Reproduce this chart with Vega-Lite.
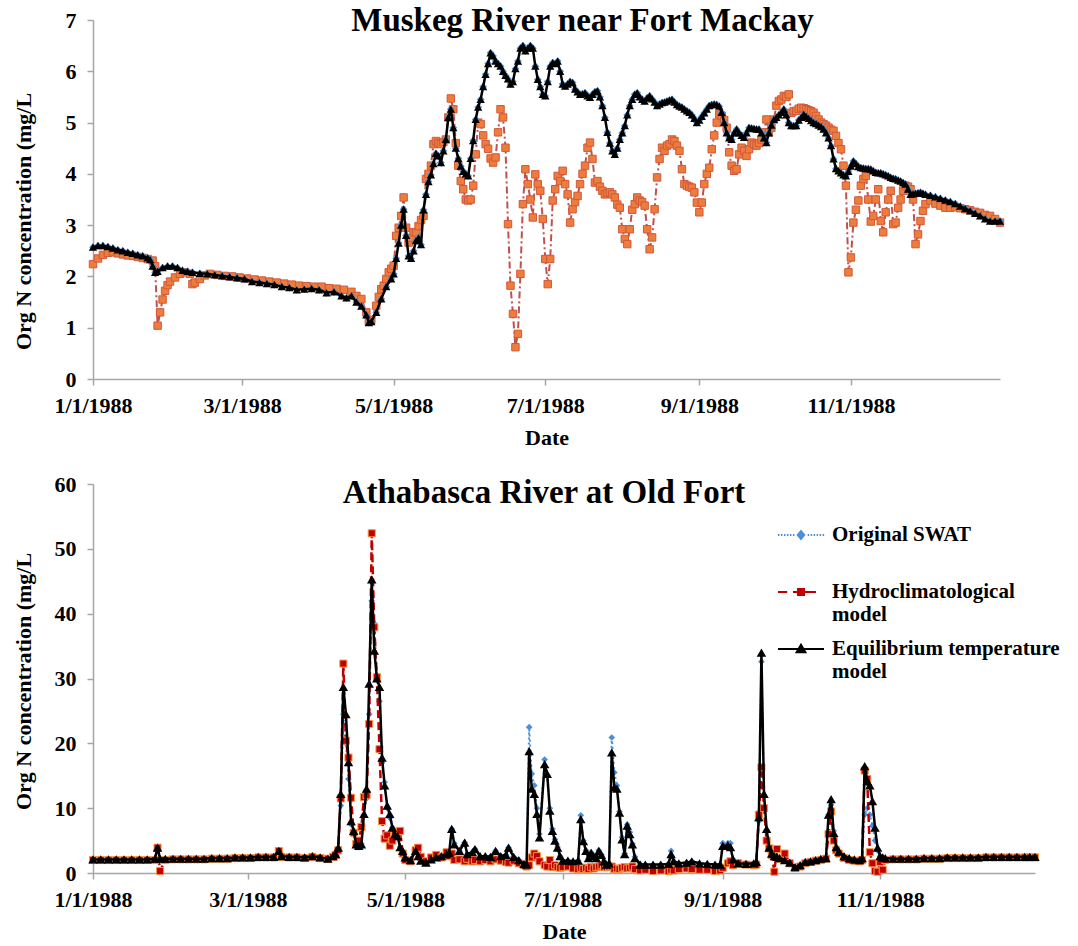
{
"$schema":"https://vega.github.io/schema/vega-lite/v6.json",
"padding":{"left":12,"top":5,"right":5,"bottom":0},
"background":"white",
"spacing":25,
"config":{"view":{"stroke":null},"font":"Liberation Serif",
"axis":{"grid":false,"domainColor":"#A6A6A6","tickColor":"#A6A6A6","domainWidth":1.5,"tickWidth":1.5,"tickSize":6,"labelFont":"Liberation Serif","labelFontWeight":"bold","labelFontSize":22,"labelColor":"black","titleFont":"Liberation Serif","titleFontWeight":"bold","titleFontSize":22,"titleColor":"black"}},
"datasets":{
"top":[
{"d":"1988-01-01","h":2.24,"e":2.57},{"d":"1988-01-03","h":2.35,"e":2.6},{"d":"1988-01-05","h":2.42,"e":2.6},{"d":"1988-01-07","h":2.46,"e":2.58},{"d":"1988-01-09","h":2.47,"e":2.55},{"d":"1988-01-11","h":2.45,"e":2.52},{"d":"1988-01-13","h":2.43,"e":2.5},{"d":"1988-01-15","h":2.41,"e":2.47},{"d":"1988-01-17","h":2.4,"e":2.45},{"d":"1988-01-19","h":2.38,"e":2.42},{"d":"1988-01-21","h":2.36,"e":2.4},{"d":"1988-01-23","h":2.34,"e":2.36},{"d":"1988-01-24","e":2.33},{"d":"1988-01-25","h":2.31,"e":2.2},{"d":"1988-01-26","h":2.2,"e":2.08},{"d":"1988-01-27","h":1.04,"e":2.1},{"d":"1988-01-28","h":1.3},{"d":"1988-01-29","h":1.55,"e":2.17},{"d":"1988-01-30","h":1.72},{"d":"1988-01-31","h":1.83,"e":2.2},{"d":"1988-02-01","h":1.9},{"d":"1988-02-02","e":2.2},{"d":"1988-02-03","h":1.98},{"d":"1988-02-04","e":2.17},{"d":"1988-02-05","h":2.05},{"d":"1988-02-06","e":2.12},{"d":"1988-02-07","h":2.08},{"d":"1988-02-08","e":2.1},{"d":"1988-02-09","h":2.05},{"d":"1988-02-10","h":1.85,"e":2.08},{"d":"1988-02-11","h":1.88},{"d":"1988-02-13","h":1.95,"e":2.06},{"d":"1988-02-15","h":2.02},{"d":"1988-02-16","e":2.05},{"d":"1988-02-17","h":2.05},{"d":"1988-02-19","e":2.03},{"d":"1988-02-20","h":2.03},{"d":"1988-02-22","e":2.01},{"d":"1988-02-23","h":2.01},{"d":"1988-02-25","e":1.99},{"d":"1988-02-26","h":2.0},{"d":"1988-02-28","e":1.97},{"d":"1988-02-29","h":1.98},{"d":"1988-03-02","e":1.95},{"d":"1988-03-03","h":1.96},{"d":"1988-03-05","e":1.9},{"d":"1988-03-06","h":1.94},{"d":"1988-03-08","e":1.88},{"d":"1988-03-09","h":1.92},{"d":"1988-03-11","e":1.86},{"d":"1988-03-12","h":1.9},{"d":"1988-03-14","e":1.84},{"d":"1988-03-15","h":1.88},{"d":"1988-03-17","e":1.8},{"d":"1988-03-18","h":1.86},{"d":"1988-03-20","e":1.78},{"d":"1988-03-21","h":1.84},{"d":"1988-03-23","e":1.74},{"d":"1988-03-24","h":1.82},{"d":"1988-03-26","e":1.75},{"d":"1988-03-27","h":1.81},{"d":"1988-03-29","e":1.76},{"d":"1988-03-30","h":1.8},{"d":"1988-04-01","e":1.74},{"d":"1988-04-02","h":1.8},{"d":"1988-04-04","e":1.68},{"d":"1988-04-05","h":1.77},{"d":"1988-04-07","e":1.7},{"d":"1988-04-08","h":1.76},{"d":"1988-04-10","e":1.62},{"d":"1988-04-11","h":1.74},{"d":"1988-04-12","e":1.58},{"d":"1988-04-14","h":1.7,"e":1.62},{"d":"1988-04-16","h":1.62,"e":1.5},{"d":"1988-04-18","h":1.56,"e":1.42},{"d":"1988-04-20","h":1.3,"e":1.25},{"d":"1988-04-21","h":1.12,"e":1.1},{"d":"1988-04-22","h":1.15,"e":1.12},{"d":"1988-04-24","h":1.43,"e":1.3},{"d":"1988-04-25","h":1.6},{"d":"1988-04-26","h":1.75,"e":1.56},{"d":"1988-04-27","h":1.82},{"d":"1988-04-28","h":1.95,"e":1.8},{"d":"1988-04-29","h":2.08},{"d":"1988-04-30","h":2.15,"e":1.95},
{"d":"1988-05-01","h":2.21,"e":2.05},{"d":"1988-05-02","h":2.79,"e":2.35},{"d":"1988-05-03","h":2.95,"e":2.65},{"d":"1988-05-04","h":3.18,"e":3.0},{"d":"1988-05-05","h":3.54,"e":3.31},{"d":"1988-05-06","h":2.95,"e":2.8},{"d":"1988-05-07","h":2.66,"e":2.4},{"d":"1988-05-08","h":2.75,"e":2.35},{"d":"1988-05-09","h":2.86,"e":2.5},{"d":"1988-05-10","h":2.86,"e":2.7},{"d":"1988-05-11","h":2.98,"e":2.75},{"d":"1988-05-12","h":3.1,"e":2.62},{"d":"1988-05-13","h":3.18,"e":3.3},{"d":"1988-05-14","h":3.9,"e":3.6},{"d":"1988-05-15","h":4.0,"e":3.85},{"d":"1988-05-16","h":4.16,"e":3.98},{"d":"1988-05-17","h":4.58,"e":4.2},{"d":"1988-05-18","h":4.64,"e":4.4},{"d":"1988-05-19","h":4.6,"e":4.35},{"d":"1988-05-20","h":4.58,"e":4.22},{"d":"1988-05-21","h":4.62,"e":4.45},{"d":"1988-05-22","h":4.67,"e":4.67},{"d":"1988-05-23","h":5.1,"e":5.1},{"d":"1988-05-24","h":5.47,"e":5.26},{"d":"1988-05-25","h":5.26,"e":4.9},{"d":"1988-05-26","h":4.6,"e":4.5},{"d":"1988-05-27","h":4.16,"e":4.3},{"d":"1988-05-28","h":3.86,"e":4.15},{"d":"1988-05-29","h":3.7,"e":4.05},{"d":"1988-05-30","h":3.5,"e":4.0},{"d":"1988-05-31","h":3.48,"e":3.96},
{"d":"1988-06-01","h":3.5,"e":4.3},{"d":"1988-06-02","h":3.77,"e":4.65},{"d":"1988-06-03","h":4.38,"e":5.06},{"d":"1988-06-04","h":5.0,"e":5.3},{"d":"1988-06-05","h":4.97,"e":5.45},{"d":"1988-06-06","h":4.75,"e":5.7},{"d":"1988-06-07","h":4.58,"e":5.94},{"d":"1988-06-08","h":4.49,"e":6.15},{"d":"1988-06-09","h":4.3,"e":6.36},{"d":"1988-06-10","h":4.22,"e":6.3},{"d":"1988-06-11","h":4.32,"e":6.2},{"d":"1988-06-12","h":4.81,"e":6.15},{"d":"1988-06-13","h":5.26,"e":6.1},{"d":"1988-06-14","h":5.1,"e":6.0},{"d":"1988-06-15","h":4.51,"e":5.92},{"d":"1988-06-16","h":3.02,"e":5.85},{"d":"1988-06-17","h":1.82,"e":5.75},{"d":"1988-06-18","h":1.27,"e":5.8},{"d":"1988-06-19","h":0.62,"e":6.05},{"d":"1988-06-20","h":0.88,"e":6.2},{"d":"1988-06-21","h":2.05,"e":6.45},{"d":"1988-06-22","h":3.41,"e":6.5},{"d":"1988-06-23","h":4.09,"e":6.4},{"d":"1988-06-24","h":3.8,"e":6.45},{"d":"1988-06-25","h":3.5,"e":6.5},{"d":"1988-06-26","h":3.15,"e":6.45},{"d":"1988-06-27","h":3.99,"e":6.1},{"d":"1988-06-28","h":3.8,"e":5.84},{"d":"1988-06-29","h":3.67,"e":5.7},{"d":"1988-06-30","h":3.12,"e":5.55},
{"d":"1988-07-01","h":2.34,"e":5.52},{"d":"1988-07-02","h":1.85,"e":5.8},{"d":"1988-07-03","h":2.34,"e":6.1},{"d":"1988-07-04","h":3.48,"e":6.17},{"d":"1988-07-05","h":3.7,"e":6.15},{"d":"1988-07-06","h":3.96,"e":6.2},{"d":"1988-07-07","h":3.86,"e":6.0},{"d":"1988-07-08","h":4.06,"e":5.75},{"d":"1988-07-09","h":3.8,"e":5.71},{"d":"1988-07-10","h":3.6,"e":5.75},{"d":"1988-07-11","h":3.05,"e":5.8},{"d":"1988-07-12","h":3.31,"e":5.78},{"d":"1988-07-13","h":3.45,"e":5.65},{"d":"1988-07-14","h":3.57,"e":5.6},{"d":"1988-07-15","h":3.8,"e":5.55},{"d":"1988-07-16","h":4.0,"e":5.56},{"d":"1988-07-17","h":4.16,"e":5.58},{"d":"1988-07-18","h":4.51,"e":5.52},{"d":"1988-07-19","h":4.61,"e":5.49},{"d":"1988-07-20","h":4.29,"e":5.55},{"d":"1988-07-21","h":3.83,"e":5.6},{"d":"1988-07-22","h":3.86,"e":5.62},{"d":"1988-07-23","h":3.75,"e":5.5},{"d":"1988-07-24","h":3.67,"e":5.33},{"d":"1988-07-25","h":3.6,"e":5.1},{"d":"1988-07-26","h":3.62,"e":4.81},{"d":"1988-07-27","h":3.64,"e":4.6},{"d":"1988-07-28","h":3.6,"e":4.45},{"d":"1988-07-29","h":3.54,"e":4.38},{"d":"1988-07-30","h":3.4,"e":4.5},{"d":"1988-07-31","h":3.34,"e":4.67},
{"d":"1988-08-01","h":2.92,"e":4.8},{"d":"1988-08-02","h":2.73,"e":4.94},{"d":"1988-08-03","h":2.63,"e":5.15},{"d":"1988-08-04","h":2.92,"e":5.33},{"d":"1988-08-05","h":3.3,"e":5.45},{"d":"1988-08-06","h":3.41,"e":5.55},{"d":"1988-08-07","h":3.54,"e":5.58},{"d":"1988-08-08","h":3.48,"e":5.5},{"d":"1988-08-09","h":3.45,"e":5.45},{"d":"1988-08-10","h":3.38,"e":5.42},{"d":"1988-08-11","h":2.92,"e":5.48},{"d":"1988-08-12","h":2.53,"e":5.52},{"d":"1988-08-13","h":2.76,"e":5.46},{"d":"1988-08-14","h":3.31,"e":5.4},{"d":"1988-08-15","h":3.93,"e":5.33},{"d":"1988-08-16","h":4.29,"e":5.36},{"d":"1988-08-17","h":4.51,"e":5.39},{"d":"1988-08-18","h":4.45,"e":5.4},{"d":"1988-08-19","h":4.55,"e":5.42},{"d":"1988-08-20","h":4.58,"e":5.44},{"d":"1988-08-21","h":4.67,"e":5.45},{"d":"1988-08-22","h":4.64,"e":5.4},{"d":"1988-08-23","h":4.55,"e":5.35},{"d":"1988-08-24","h":4.45,"e":5.32},{"d":"1988-08-25","h":4.09,"e":5.3},{"d":"1988-08-26","h":3.8,"e":5.26},{"d":"1988-08-27","h":3.77,"e":5.23},{"d":"1988-08-28","h":3.75,"e":5.2},{"d":"1988-08-29","h":3.73,"e":5.15},{"d":"1988-08-30","h":3.64,"e":5.08},{"d":"1988-08-31","h":3.44,"e":5.0},
{"d":"1988-09-01","h":3.25,"e":5.05},{"d":"1988-09-02","h":3.44,"e":5.12},{"d":"1988-09-03","h":3.8,"e":5.19},{"d":"1988-09-04","h":4.0,"e":5.26},{"d":"1988-09-05","h":4.12,"e":5.33},{"d":"1988-09-06","h":4.48,"e":5.35},{"d":"1988-09-07","h":4.75,"e":5.36},{"d":"1988-09-08","h":5.0,"e":5.35},{"d":"1988-09-09","h":5.16,"e":5.32},{"d":"1988-09-10","h":5.13,"e":5.2},{"d":"1988-09-11","h":5.05,"e":5.0},{"d":"1988-09-12","h":4.9,"e":4.8},{"d":"1988-09-13","h":4.42,"e":4.7},{"d":"1988-09-14","h":4.16,"e":4.67},{"d":"1988-09-15","h":4.06,"e":4.8},{"d":"1988-09-16","h":4.09,"e":4.87},{"d":"1988-09-17","h":4.38,"e":4.8},{"d":"1988-09-18","h":4.51,"e":4.75},{"d":"1988-09-19","h":4.45,"e":4.71},{"d":"1988-09-20","h":4.35,"e":4.8},{"d":"1988-09-21","h":4.48,"e":4.9},{"d":"1988-09-22","h":4.61,"e":4.89},{"d":"1988-09-23","h":4.58,"e":4.88},{"d":"1988-09-24","h":4.55,"e":4.87},{"d":"1988-09-25","h":4.6,"e":4.87},{"d":"1988-09-26","h":4.67,"e":4.8},{"d":"1988-09-27","h":4.81,"e":4.7},{"d":"1988-09-28","h":5.06,"e":4.61},{"d":"1988-09-29","h":4.81,"e":4.8},{"d":"1988-09-30","h":4.9,"e":4.95},
{"d":"1988-10-01","h":5.06,"e":5.06},{"d":"1988-10-02","h":5.33,"e":5.1},{"d":"1988-10-03","h":5.42,"e":5.15},{"d":"1988-10-04","h":5.45,"e":5.2},{"d":"1988-10-05","h":5.52,"e":5.26},{"d":"1988-10-06","h":5.5,"e":5.15},{"d":"1988-10-07","h":5.55,"e":5.0},{"d":"1988-10-08","h":5.19,"e":4.94},{"d":"1988-10-09","h":5.22,"e":4.94},{"d":"1988-10-10","h":5.23,"e":4.94},{"d":"1988-10-11","h":5.27,"e":5.05},{"d":"1988-10-12","h":5.29,"e":5.1},{"d":"1988-10-13","h":5.28,"e":5.16},{"d":"1988-10-14","h":5.26,"e":5.12},{"d":"1988-10-15","h":5.24,"e":5.08},{"d":"1988-10-16","h":5.22,"e":5.04},{"d":"1988-10-17","h":5.19,"e":5.0},{"d":"1988-10-18","h":5.13,"e":4.98},{"d":"1988-10-19","h":5.06,"e":4.95},{"d":"1988-10-20","h":5.0,"e":4.92},{"d":"1988-10-21","h":4.97,"e":4.87},{"d":"1988-10-22","h":4.94,"e":4.8},{"d":"1988-10-23","h":4.9,"e":4.7},{"d":"1988-10-24","h":4.86,"e":4.55},{"d":"1988-10-25","h":4.84,"e":4.29},{"d":"1988-10-26","h":4.74,"e":4.1},{"d":"1988-10-27","h":4.6,"e":4.06},{"d":"1988-10-28","h":4.48,"e":4.02},{"d":"1988-10-29","h":4.16,"e":3.98},{"d":"1988-10-30","h":3.77,"e":3.96},{"d":"1988-10-31","h":2.08,"e":4.05},
{"d":"1988-11-01","h":2.37,"e":4.15},{"d":"1988-11-02","h":3.05,"e":4.25},{"d":"1988-11-03","h":3.3,"e":4.2},{"d":"1988-11-04","h":3.48,"e":4.14},{"d":"1988-11-05","h":3.77,"e":4.12},{"d":"1988-11-06","h":3.9,"e":4.11},{"d":"1988-11-07","h":3.96,"e":4.1},{"d":"1988-11-08","h":3.5,"e":4.1},{"d":"1988-11-09","h":3.07,"e":4.09},{"d":"1988-11-10","h":3.18,"e":4.06},{"d":"1988-11-11","h":3.5,"e":4.03},{"d":"1988-11-12","h":3.7,"e":4.02},{"d":"1988-11-13","h":3.08,"e":4.02},{"d":"1988-11-14","h":2.86,"e":4.0},{"d":"1988-11-15","h":3.25,"e":3.98},{"d":"1988-11-16","h":3.5,"e":3.96},{"d":"1988-11-17","h":3.67,"e":3.93},{"d":"1988-11-18","h":3.02,"e":3.91},{"d":"1988-11-19","h":3.05,"e":3.9},{"d":"1988-11-20","h":3.34,"e":3.88},{"d":"1988-11-21","h":3.5,"e":3.86},{"d":"1988-11-22","h":3.67,"e":3.83},{"d":"1988-11-23","h":3.77,"e":3.8},{"d":"1988-11-24","h":3.75,"e":3.7},{"d":"1988-11-25","h":3.7,"e":3.6},{"d":"1988-11-26","h":3.5,"e":3.61},{"d":"1988-11-27","h":2.63,"e":3.62},{"d":"1988-11-28","h":2.82,"e":3.63},{"d":"1988-11-29","h":3.08,"e":3.64},{"d":"1988-11-30","h":3.28,"e":3.62},
{"d":"1988-12-01","h":3.41,"e":3.6},{"d":"1988-12-03","h":3.48,"e":3.58},{"d":"1988-12-05","h":3.42,"e":3.55},{"d":"1988-12-07","h":3.38,"e":3.52},{"d":"1988-12-09","h":3.34,"e":3.49},{"d":"1988-12-11","h":3.34,"e":3.46},{"d":"1988-12-13","h":3.35,"e":3.42},{"d":"1988-12-15","h":3.33,"e":3.37},{"d":"1988-12-17","h":3.31,"e":3.32},{"d":"1988-12-19","h":3.29,"e":3.28},{"d":"1988-12-21","h":3.26,"e":3.23},{"d":"1988-12-23","h":3.24,"e":3.18},{"d":"1988-12-25","h":3.2,"e":3.12},{"d":"1988-12-27","h":3.18,"e":3.08},{"d":"1988-12-29","h":3.12,"e":3.08},{"d":"1988-12-31","h":3.05,"e":3.08}
],
"bot":[
{"d":"1988-01-01","o":2.1,"h":2.0,"e":2.1},{"d":"1988-01-04","o":2.1,"h":2.0,"e":2.1},{"d":"1988-01-07","o":2.1,"h":2.0,"e":2.1},{"d":"1988-01-10","o":2.1,"h":2.0,"e":2.1},{"d":"1988-01-13","o":2.1,"h":2.0,"e":2.1},{"d":"1988-01-16","o":2.1,"h":2.0,"e":2.1},{"d":"1988-01-19","o":2.1,"h":2.0,"e":2.1},{"d":"1988-01-22","o":2.1,"h":2.0,"e":2.1},{"d":"1988-01-25","o":2.2,"h":2.0,"e":2.2},{"d":"1988-01-26","o":3.7,"h":3.9,"e":3.9},{"d":"1988-01-27","o":2.2,"h":0.3,"e":2.2},{"d":"1988-01-29","o":2.2,"h":2.0,"e":2.2},
{"d":"1988-02-01","o":2.2,"h":2.1,"e":2.2},{"d":"1988-02-04","o":2.2,"h":2.1,"e":2.2},{"d":"1988-02-07","o":2.2,"h":2.1,"e":2.2},{"d":"1988-02-10","o":2.2,"h":2.1,"e":2.2},{"d":"1988-02-13","o":2.2,"h":2.1,"e":2.2},{"d":"1988-02-16","o":2.3,"h":2.2,"e":2.3},{"d":"1988-02-19","o":2.3,"h":2.2,"e":2.3},{"d":"1988-02-22","o":2.3,"h":2.2,"e":2.3},{"d":"1988-02-25","o":2.4,"h":2.3,"e":2.4},{"d":"1988-02-28","o":2.4,"h":2.3,"e":2.4},
{"d":"1988-03-02","o":2.4,"h":2.3,"e":2.4},{"d":"1988-03-05","o":2.5,"h":2.4,"e":2.5},{"d":"1988-03-08","o":2.5,"h":2.4,"e":2.5},{"d":"1988-03-11","o":2.5,"h":2.4,"e":2.5},{"d":"1988-03-13","o":3.3,"h":3.4,"e":3.4},{"d":"1988-03-14","o":2.6,"h":2.5,"e":2.6},{"d":"1988-03-17","o":2.5,"h":2.4,"e":2.5},{"d":"1988-03-20","o":2.5,"h":2.4,"e":2.5},{"d":"1988-03-23","o":2.4,"h":2.3,"e":2.4},{"d":"1988-03-26","o":2.6,"h":2.5,"e":2.6},{"d":"1988-03-29","o":2.4,"h":2.3,"e":2.4},
{"d":"1988-04-01","o":2.3,"h":2.2,"e":2.2},{"d":"1988-04-03","o":2.6,"h":2.5,"e":2.6},{"d":"1988-04-04","o":2.9,"h":2.8,"e":2.9},{"d":"1988-04-05","o":3.8,"h":3.5,"e":3.9},{"d":"1988-04-06","o":10.4,"h":11.5,"e":12.2},{"d":"1988-04-07","o":24.5,"h":32.3,"e":28.7},{"d":"1988-04-08","o":20.0,"h":20.4,"e":24.5},{"d":"1988-04-09","o":14.5,"h":17.8,"e":17.1},{"d":"1988-04-10","o":7.5,"h":11.6,"e":8.0},{"d":"1988-04-11","o":6.0,"h":6.2,"e":6.5},{"d":"1988-04-12","o":4.0,"h":4.5,"e":4.4},{"d":"1988-04-13","o":4.0,"h":5.0,"e":4.2},{"d":"1988-04-14","o":4.5,"h":7.1,"e":4.4},{"d":"1988-04-15","o":9.0,"h":11.7,"e":9.1},{"d":"1988-04-16","o":11.5,"h":12.0,"e":13.0},{"d":"1988-04-17","o":24.5,"h":23.0,"e":29.2},{"d":"1988-04-18","o":42.0,"h":52.4,"e":45.3},{"d":"1988-04-19","o":38.5,"h":37.9,"e":34.3},{"d":"1988-04-20","o":30.0,"h":30.2,"e":30.0},{"d":"1988-04-21","o":26.5,"h":19.1,"e":28.7},{"d":"1988-04-22","o":17.0,"h":8.0,"e":17.8},{"d":"1988-04-23","o":14.0,"h":5.3,"e":13.5},{"d":"1988-04-24","o":10.0,"h":5.8,"e":10.4},{"d":"1988-04-25","o":8.5,"h":4.2,"e":9.1},{"d":"1988-04-26","o":7.0,"h":5.0,"e":7.0},{"d":"1988-04-27","o":6.0,"h":6.3,"e":6.0},{"d":"1988-04-28","o":5.5,"h":6.0,"e":5.7},{"d":"1988-04-29","o":4.0,"h":6.5,"e":4.0},{"d":"1988-04-30","o":3.0,"h":3.0,"e":3.4},
{"d":"1988-05-01","o":2.4,"h":2.0,"e":2.4},{"d":"1988-05-03","o":2.0,"h":1.8,"e":2.0},{"d":"1988-05-05","o":3.4,"h":3.5,"e":3.4},{"d":"1988-05-06","o":2.6,"h":3.9,"e":2.6},{"d":"1988-05-07","o":1.9,"h":2.5,"e":1.9},{"d":"1988-05-09","o":1.6,"h":1.8,"e":1.6},{"d":"1988-05-11","o":2.1,"h":2.4,"e":2.1},{"d":"1988-05-13","o":2.4,"h":2.8,"e":2.4},{"d":"1988-05-15","o":2.6,"h":2.4,"e":2.6},{"d":"1988-05-17","o":2.9,"h":3.2,"e":2.9},{"d":"1988-05-18","o":3.1,"h":2.6,"e":3.1},{"d":"1988-05-19","o":6.8,"h":3.0,"e":6.8},{"d":"1988-05-20","o":4.6,"h":2.0,"e":4.4},{"d":"1988-05-22","o":3.4,"h":2.1,"e":3.4},{"d":"1988-05-24","o":4.7,"h":1.8,"e":4.7},{"d":"1988-05-25","o":2.9,"h":2.2,"e":2.9},{"d":"1988-05-27","o":3.2,"h":1.8,"e":3.2},{"d":"1988-05-28","o":3.7,"h":2.0,"e":3.7},{"d":"1988-05-30","o":2.6,"h":1.8,"e":2.6},
{"d":"1988-06-01","o":2.6,"h":2.0,"e":2.6},{"d":"1988-06-03","o":2.5,"h":1.8,"e":2.5},{"d":"1988-06-05","o":3.4,"h":2.1,"e":3.4},{"d":"1988-06-07","o":2.6,"h":1.9,"e":2.6},{"d":"1988-06-09","o":2.8,"h":1.7,"e":2.8},{"d":"1988-06-10","o":3.9,"h":1.6,"e":3.9},{"d":"1988-06-12","o":2.5,"h":1.9,"e":2.5},{"d":"1988-06-14","o":2.0,"h":1.5,"e":2.0},{"d":"1988-06-16","o":1.4,"h":1.2,"e":1.4},{"d":"1988-06-17","o":1.3,"h":1.0,"e":1.3},{"d":"1988-06-18","o":22.5,"h":1.2,"e":18.8},{"d":"1988-06-19","o":15.3,"h":2.4,"e":13.0},{"d":"1988-06-20","o":13.5,"h":3.0,"e":12.2},{"d":"1988-06-21","o":10.0,"h":2.6,"e":9.1},{"d":"1988-06-22","o":6.0,"h":1.8,"e":5.5},{"d":"1988-06-24","o":17.5,"h":1.2,"e":16.8},{"d":"1988-06-25","o":15.0,"h":1.0,"e":15.3},{"d":"1988-06-26","o":10.0,"h":2.0,"e":9.6},{"d":"1988-06-27","o":6.8,"h":0.9,"e":6.5},{"d":"1988-06-28","o":5.2,"h":1.2,"e":5.0},{"d":"1988-06-29","o":4.0,"h":0.9,"e":3.9},{"d":"1988-06-30","o":2.6,"h":0.8,"e":2.6},
{"d":"1988-07-01","o":1.9,"h":0.9,"e":1.9},{"d":"1988-07-03","o":1.9,"h":1.0,"e":1.9},{"d":"1988-07-05","o":1.8,"h":0.7,"e":1.8},{"d":"1988-07-07","o":1.9,"h":0.6,"e":1.9},{"d":"1988-07-08","o":8.9,"h":0.8,"e":8.3},{"d":"1988-07-09","o":5.0,"h":0.6,"e":4.9},{"d":"1988-07-10","o":3.5,"h":0.8,"e":3.4},{"d":"1988-07-11","o":2.3,"h":0.6,"e":2.3},{"d":"1988-07-12","o":3.2,"h":0.9,"e":3.1},{"d":"1988-07-13","o":2.6,"h":0.7,"e":2.6},{"d":"1988-07-14","o":2.3,"h":0.9,"e":2.3},{"d":"1988-07-15","o":3.5,"h":1.0,"e":3.4},{"d":"1988-07-16","o":2.8,"h":1.2,"e":2.8},{"d":"1988-07-17","o":1.8,"h":0.9,"e":1.8},{"d":"1988-07-18","o":1.3,"h":0.9,"e":1.3},{"d":"1988-07-19","o":1.5,"h":1.0,"e":1.5},{"d":"1988-07-20","o":20.9,"h":1.0,"e":18.6},{"d":"1988-07-21","o":15.5,"h":0.6,"e":13.2},{"d":"1988-07-22","o":13.5,"h":0.7,"e":13.0},{"d":"1988-07-23","o":9.5,"h":0.6,"e":9.3},{"d":"1988-07-24","o":5.5,"h":0.8,"e":5.2},{"d":"1988-07-25","o":3.0,"h":0.9,"e":2.9},{"d":"1988-07-26","o":7.5,"h":0.7,"e":7.3},{"d":"1988-07-27","o":6.3,"h":0.8,"e":6.0},{"d":"1988-07-28","o":4.5,"h":1.0,"e":4.4},{"d":"1988-07-29","o":2.5,"h":0.6,"e":2.3},{"d":"1988-07-31","o":1.4,"h":0.4,"e":1.3},
{"d":"1988-08-02","o":1.3,"h":0.5,"e":1.3},{"d":"1988-08-05","o":1.3,"h":0.3,"e":1.3},{"d":"1988-08-08","o":1.3,"h":0.4,"e":1.3},{"d":"1988-08-11","o":1.4,"h":0.3,"e":1.4},{"d":"1988-08-12","o":3.4,"h":0.5,"e":2.9},{"d":"1988-08-13","o":1.8,"h":0.4,"e":1.8},{"d":"1988-08-15","o":1.5,"h":0.6,"e":1.5},{"d":"1988-08-18","o":1.6,"h":0.7,"e":1.6},{"d":"1988-08-20","o":1.8,"h":0.6,"e":1.8},{"d":"1988-08-23","o":1.5,"h":0.5,"e":1.5},{"d":"1988-08-26","o":1.4,"h":0.5,"e":1.4},{"d":"1988-08-29","o":1.3,"h":0.3,"e":1.3},{"d":"1988-08-31","o":1.3,"h":0.4,"e":1.3},
{"d":"1988-09-01","o":4.6,"h":0.8,"e":4.2},{"d":"1988-09-03","o":4.6,"h":1.5,"e":4.3},{"d":"1988-09-04","o":4.6,"h":1.8,"e":4.0},{"d":"1988-09-05","o":2.1,"h":1.2,"e":2.1},{"d":"1988-09-07","o":1.5,"h":1.5,"e":1.5},{"d":"1988-09-10","o":1.4,"h":1.3,"e":1.4},{"d":"1988-09-13","o":1.5,"h":1.2,"e":1.5},{"d":"1988-09-14","o":1.7,"h":1.3,"e":1.7},{"d":"1988-09-15","o":8.0,"h":9.0,"e":8.6},{"d":"1988-09-16","o":32.6,"h":16.3,"e":34.0},{"d":"1988-09-17","o":12.0,"h":10.0,"e":12.2},{"d":"1988-09-18","o":6.5,"h":5.0,"e":6.8},{"d":"1988-09-19","o":3.9,"h":3.8,"e":3.9},{"d":"1988-09-20","o":3.0,"h":2.8,"e":3.0},{"d":"1988-09-21","o":2.6,"h":0.2,"e":2.6},{"d":"1988-09-22","o":2.5,"h":3.7,"e":2.5},{"d":"1988-09-23","o":2.3,"h":2.2,"e":2.3},{"d":"1988-09-25","o":2.0,"h":3.0,"e":2.0},{"d":"1988-09-27","o":1.6,"h":1.5,"e":1.6},{"d":"1988-09-29","o":0.9,"h":0.8,"e":0.9},
{"d":"1988-10-01","o":1.2,"h":1.0,"e":1.2},{"d":"1988-10-03","o":1.7,"h":1.5,"e":1.7},{"d":"1988-10-05","o":1.8,"h":1.7,"e":1.8},{"d":"1988-10-07","o":2.0,"h":1.9,"e":2.0},{"d":"1988-10-09","o":2.2,"h":2.0,"e":2.2},{"d":"1988-10-11","o":2.3,"h":2.2,"e":2.3},{"d":"1988-10-12","o":9.0,"h":6.0,"e":9.0},{"d":"1988-10-13","o":10.5,"h":9.5,"e":11.4},{"d":"1988-10-14","o":6.5,"h":5.0,"e":6.2},{"d":"1988-10-15","o":4.0,"h":3.5,"e":4.0},{"d":"1988-10-16","o":3.3,"h":3.0,"e":3.3},{"d":"1988-10-18","o":2.6,"h":2.3,"e":2.6},{"d":"1988-10-20","o":2.3,"h":2.0,"e":2.3},{"d":"1988-10-22","o":2.1,"h":1.9,"e":2.1},{"d":"1988-10-24","o":2.0,"h":1.8,"e":2.0},{"d":"1988-10-25","o":2.3,"h":2.0,"e":2.3},{"d":"1988-10-26","o":9.0,"h":15.8,"e":16.5},{"d":"1988-10-27","o":10.0,"h":14.5,"e":14.2},{"d":"1988-10-28","o":9.0,"h":3.2,"e":13.5},{"d":"1988-10-29","o":7.3,"h":1.5,"e":11.1},{"d":"1988-10-30","o":5.0,"h":0.3,"e":7.0},{"d":"1988-10-31","o":3.5,"h":0.2,"e":3.9},
{"d":"1988-11-01","o":2.6,"h":1.7,"e":2.6},{"d":"1988-11-02","o":2.4,"h":0.5,"e":2.4},{"d":"1988-11-03","o":2.3,"h":2.0,"e":2.3},{"d":"1988-11-06","o":2.2,"h":2.1,"e":2.2},{"d":"1988-11-09","o":2.2,"h":2.1,"e":2.2},{"d":"1988-11-12","o":2.2,"h":2.1,"e":2.2},{"d":"1988-11-15","o":2.2,"h":2.1,"e":2.2},{"d":"1988-11-18","o":2.3,"h":2.2,"e":2.3},{"d":"1988-11-21","o":2.3,"h":2.2,"e":2.3},{"d":"1988-11-24","o":2.3,"h":2.2,"e":2.3},{"d":"1988-11-27","o":2.4,"h":2.3,"e":2.4},{"d":"1988-11-30","o":2.4,"h":2.3,"e":2.4},
{"d":"1988-12-03","o":2.4,"h":2.3,"e":2.4},{"d":"1988-12-06","o":2.4,"h":2.3,"e":2.4},{"d":"1988-12-09","o":2.4,"h":2.3,"e":2.4},{"d":"1988-12-12","o":2.5,"h":2.4,"e":2.5},{"d":"1988-12-15","o":2.5,"h":2.4,"e":2.5},{"d":"1988-12-18","o":2.5,"h":2.4,"e":2.5},{"d":"1988-12-21","o":2.5,"h":2.4,"e":2.5},{"d":"1988-12-24","o":2.5,"h":2.4,"e":2.5},{"d":"1988-12-27","o":2.5,"h":2.4,"e":2.5},{"d":"1988-12-29","o":2.5,"h":2.4,"e":2.5},{"d":"1988-12-31","o":2.5,"h":2.4,"e":2.5}
]},
"vconcat":[
{"width":907,"height":359,
"title":{"text":"Muskeg River near Fort Mackay","font":"Liberation Serif","fontSize":33,"fontWeight":"bold","color":"black","anchor":"middle","baseline":"alphabetic","offset":-55,"dx":36},
"data":{"name":"top"},
"encoding":{"x":{"field":"d","type":"temporal","title":"Date","scale":{"domain":[{"year":1988,"month":1,"date":1},{"year":1988,"month":12,"date":31}]},"axis":{"values":[{"year":1988,"month":1,"date":1},{"year":1988,"month":3,"date":1},{"year":1988,"month":5,"date":1},{"year":1988,"month":7,"date":1},{"year":1988,"month":9,"date":1},{"year":1988,"month":11,"date":1}],"format":"%-m/%-d/%Y","labelFlush":false,"labelOverlap":false,"labelPadding":10,"titlePadding":11}}},
"layer":[
{"transform":[{"filter":"isValid(datum.h)"}],"mark":{"type":"line","stroke":"#C0504D","strokeWidth":2,"strokeDash":[7,3,2,3]},"encoding":{"y":{"field":"h","type":"quantitative","title":"Org N concentration (mg/L","scale":{"domain":[0,7]},"axis":{"values":[0,1,2,3,4,5,6,7],"labelPadding":11,"titleX":-70,"titleY":201,"titleAngle":270,"titleBaseline":"middle","titleAlign":"center"}}}},
{"transform":[{"filter":"isValid(datum.h)"}],"mark":{"type":"point","shape":"square","filled":true,"fill":"#EE7D3B","stroke":"#D0583C","strokeWidth":1,"size":55,"opacity":1},"encoding":{"y":{"field":"h","type":"quantitative","title":"Org N concentration (mg/L"}}},
{"transform":[{"filter":"isValid(datum.e)"}],"mark":{"type":"point","shape":"diamond","filled":true,"fill":"#4A90D9","size":60,"opacity":1},"encoding":{"y":{"field":"e","type":"quantitative","title":"Org N concentration (mg/L"}}},
{"transform":[{"filter":"isValid(datum.e)"}],"mark":{"type":"line","stroke":"black","strokeWidth":2.5},"encoding":{"y":{"field":"e","type":"quantitative","title":"Org N concentration (mg/L"}}},
{"transform":[{"filter":"isValid(datum.e)"}],"mark":{"type":"point","shape":"triangle-up","filled":true,"fill":"black","size":70,"opacity":1},"encoding":{"y":{"field":"e","type":"quantitative","title":"Org N concentration (mg/L"}}}
]},
{"width":942,"height":389,
"title":{"text":"Athabasca River at Old Fort","font":"Liberation Serif","fontSize":33,"fontWeight":"bold","color":"black","anchor":"middle","baseline":"alphabetic","offset":-63,"dx":-20},
"data":{"name":"bot"},
"encoding":{"x":{"field":"d","type":"temporal","title":"Date","scale":{"domain":[{"year":1988,"month":1,"date":1},{"year":1988,"month":12,"date":31}]},"axis":{"values":[{"year":1988,"month":1,"date":1},{"year":1988,"month":3,"date":1},{"year":1988,"month":5,"date":1},{"year":1988,"month":7,"date":1},{"year":1988,"month":9,"date":1},{"year":1988,"month":11,"date":1}],"format":"%-m/%-d/%Y","labelFlush":false,"labelOverlap":false,"labelPadding":10,"titlePadding":11}}},
"layer":[
{"mark":{"type":"line","strokeWidth":2},"encoding":{"y":{"field":"o","type":"quantitative","title":"Org N concentration (mg/L","scale":{"domain":[0,60]},"axis":{"values":[0,10,20,30,40,50,60],"labelPadding":11,"titleX":-70,"titleY":197,"titleAngle":270,"titleBaseline":"middle","titleAlign":"center"}},
"strokeDash":{"datum":"o","type":"nominal","scale":{"domain":["o","h","e"],"range":[[2,3],[8,4],[1,0]]},"legend":null},
"color":{"datum":"Original SWAT","type":"nominal","scale":{"domain":["Original SWAT","Hydroclimatological model","Equilibrium temperature model"],"range":["#4A90D9","#C00000","#000000"]},
"legend":{"orient":"none","legendX":684,"legendY":491,"title":null,"padding":0,"symbolSize":2116,"symbolStrokeWidth":2,"labelOffset":7,"labelFont":"Liberation Serif","labelFontSize":21,"labelFontWeight":"bold","labelColor":"black","labelLimit":400,"labelBaseline":"middle","rowPadding":0,
"labelExpr":"datum.value == 'Original SWAT' ? ['Original SWAT', ''] : datum.value == 'Hydroclimatological model' ? ['Hydroclimatological', 'model'] : ['Equilibrium temperature', 'model']",
"encode":{"labels":{"update":{"lineHeight":{"value":23}}}}}}}},
{"mark":{"type":"point","shape":"diamond","filled":true,"fill":"#4A90D9","size":45,"opacity":1},"encoding":{"y":{"field":"o","type":"quantitative","title":"Org N concentration (mg/L"}}},
{"mark":{"type":"line","strokeWidth":2.5},"encoding":{"y":{"field":"h","type":"quantitative","title":"Org N concentration (mg/L"},"color":{"datum":"Hydroclimatological model","type":"nominal"},"strokeDash":{"datum":"h","type":"nominal"}}},
{"mark":{"type":"point","shape":"square","filled":true,"fill":"#C00000","stroke":"#F79646","strokeWidth":1,"size":50,"opacity":1},"encoding":{"y":{"field":"h","type":"quantitative","title":"Org N concentration (mg/L"}}},
{"mark":{"type":"line","strokeWidth":2.5},"encoding":{"y":{"field":"e","type":"quantitative","title":"Org N concentration (mg/L"},"color":{"datum":"Equilibrium temperature model","type":"nominal"},"strokeDash":{"datum":"e","type":"nominal"}}},
{"mark":{"type":"point","shape":"triangle-up","filled":true,"fill":"black","size":90,"opacity":1},"encoding":{"y":{"field":"e","type":"quantitative","title":"Org N concentration (mg/L"}}},
{"transform":[{"filter":"false"}],"mark":{"type":"point","filled":true,"opacity":1},"encoding":{
"shape":{"datum":"Original SWAT","type":"nominal","scale":{"domain":["Original SWAT","Hydroclimatological model","Equilibrium temperature model"],"range":["M-1,0h0.065M-0.87,0h0.065M-0.74,0h0.065M-0.61,0h0.065M-0.48,0h0.065M-0.35,0h0.065M0.29,0h0.065M0.42,0h0.065M0.55,0h0.065M0.68,0h0.065M0.81,0h0.065M0.94,0h0.065M0,-0.17L0.14,0L0,0.17L-0.14,0Z","M-1,0H-0.6M-0.35,0H-0.1M0.1,0H0.65M-0.13,-0.13H0.13V0.13H-0.13Z","M-1,0H1M0,-0.19L0.19,0.14L-0.19,0.14Z"]}},
"fill":{"datum":"Original SWAT","type":"nominal","scale":{"domain":["Original SWAT","Hydroclimatological model","Equilibrium temperature model"],"range":["#4A90D9","#C00000","#000000"]}}}}
]}
]
}
